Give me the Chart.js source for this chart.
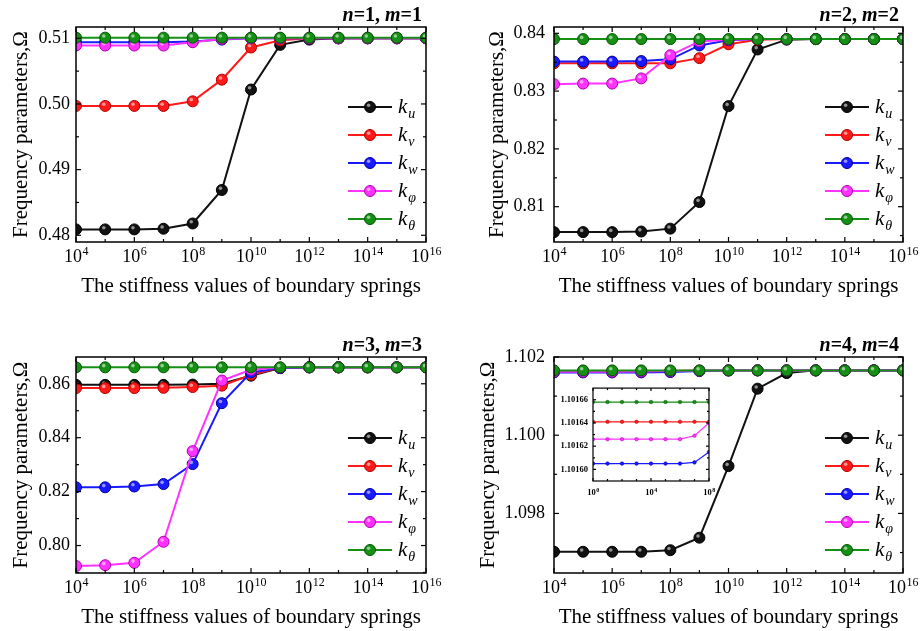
<!DOCTYPE html>
<html>
<head>
<meta charset="utf-8">
<script src="https://cdn.jsdelivr.net/npm/chart.js@4.4.1/dist/chart.umd.min.js"></script>
<style>
html, body { margin: 0; padding: 0; background: #fff; }
#wrap { position: relative; width: 920px; height: 631px; overflow: hidden; background: #fff; }
.box { position: absolute; }
</style>
</head>
<body>
<div id="wrap">
  <div class="box" style="left:0px;top:0px;width:460px;height:300px"><canvas id="c1"></canvas></div>
  <div class="box" style="left:460px;top:0px;width:460px;height:300px"><canvas id="c2"></canvas></div>
  <div class="box" style="left:0px;top:300px;width:460px;height:331px"><canvas id="c3"></canvas></div>
  <div class="box" style="left:460px;top:300px;width:460px;height:331px"><canvas id="c4"></canvas></div>
  <div class="box" style="left:555px;top:378px;width:165px;height:125px"><canvas id="c5"></canvas></div>
</div>
<script>
// stiffness values (x axis), one point per decade
var stiffness = [1e4, 1e5, 1e6, 1e7, 1e8, 1e9, 1e10, 1e11, 1e12, 1e13, 1e14, 1e15, 1e16];
var stiffnessTicks = [1e4, 1e6, 1e8, 1e10, 1e12, 1e14, 1e16];
var insetStiffness = [1e0, 1e1, 1e2, 1e3, 1e4, 1e5, 1e6, 1e7, 1e8];
var insetStiffnessTicks = [1e0, 1e4, 1e8];

var seriesSubs = ['u', 'v', 'w', 'φ', 'θ'];
var seriesColors = ['#111111', '#ff1a1a', '#1a1aff', '#ff33ff', '#159015'];
var seriesEdges = ['#000000', '#b00000', '#0000a0', '#b000b0', '#005500'];

// n=1, m=1
var ku1 = [0.4809, 0.4809, 0.4809, 0.4810, 0.4818, 0.4869, 0.5022, 0.5090, 0.5098, 0.5100, 0.5100, 0.5100, 0.5100];
var kv1 = [0.4997, 0.4997, 0.4997, 0.4997, 0.5004, 0.5037, 0.5086, 0.5097, 0.5100, 0.5100, 0.5100, 0.5100, 0.5100];
var kw1 = [0.5094, 0.5094, 0.5094, 0.5094, 0.5095, 0.5098, 0.5100, 0.5100, 0.5100, 0.5100, 0.5100, 0.5100, 0.5100];
var kp1 = [0.5089, 0.5089, 0.5089, 0.5089, 0.5094, 0.5099, 0.5100, 0.5100, 0.5100, 0.5100, 0.5100, 0.5100, 0.5100];
var kt1 = [0.5101, 0.5101, 0.5101, 0.5101, 0.5101, 0.5101, 0.5101, 0.5101, 0.5101, 0.5101, 0.5101, 0.5101, 0.5101];
var yTicks1 = [0.48, 0.49, 0.50, 0.51];
var yMinor1 = [0.485, 0.495, 0.505];

// n=2, m=2
var ku2 = [0.8056, 0.8056, 0.8056, 0.8057, 0.8062, 0.8108, 0.8274, 0.8372, 0.8389, 0.8390, 0.8390, 0.8390, 0.8390];
var kv2 = [0.8348, 0.8348, 0.8348, 0.8348, 0.8348, 0.8357, 0.8381, 0.8389, 0.8390, 0.8390, 0.8390, 0.8390, 0.8390];
var kw2 = [0.8351, 0.8351, 0.8351, 0.8352, 0.8355, 0.8379, 0.8388, 0.8390, 0.8390, 0.8390, 0.8390, 0.8390, 0.8390];
var kp2 = [0.8312, 0.8313, 0.8313, 0.8322, 0.8362, 0.8386, 0.8389, 0.8390, 0.8390, 0.8390, 0.8390, 0.8390, 0.8390];
var kt2 = [0.8390, 0.8390, 0.8390, 0.8390, 0.8390, 0.8390, 0.8390, 0.8390, 0.8390, 0.8390, 0.8390, 0.8390, 0.8390];
var yTicks2 = [0.81, 0.82, 0.83, 0.84];
var yMinor2 = [0.805, 0.815, 0.825, 0.835];

// n=3, m=3
var ku3 = [0.8596, 0.8596, 0.8596, 0.8596, 0.8597, 0.8600, 0.8630, 0.8658, 0.8661, 0.8661, 0.8661, 0.8661, 0.8661];
var kv3 = [0.8584, 0.8584, 0.8584, 0.8585, 0.8588, 0.8593, 0.8633, 0.8659, 0.8661, 0.8661, 0.8661, 0.8661, 0.8661];
var kw3 = [0.8216, 0.8216, 0.8219, 0.8228, 0.8302, 0.8528, 0.8642, 0.8658, 0.8661, 0.8661, 0.8661, 0.8661, 0.8661];
var kp3 = [0.7924, 0.7927, 0.7936, 0.8014, 0.8350, 0.8612, 0.8652, 0.8660, 0.8661, 0.8661, 0.8661, 0.8661, 0.8661];
var kt3 = [0.8661, 0.8661, 0.8661, 0.8661, 0.8661, 0.8661, 0.8661, 0.8661, 0.8661, 0.8661, 0.8661, 0.8661, 0.8661];
var yTicks3 = [0.80, 0.82, 0.84, 0.86];
var yMinor3 = [0.79, 0.81, 0.83, 0.85];

// n=4, m=4
var ku4 = [1.09702, 1.09702, 1.09702, 1.09702, 1.09706, 1.09738, 1.09921, 1.10119, 1.10159, 1.101658, 1.101658, 1.101658, 1.101658];
var kv4 = [1.101641, 1.101641, 1.101641, 1.101641, 1.101641, 1.10165, 1.101656, 1.101658, 1.101658, 1.101658, 1.101658, 1.101658, 1.101658];
var kw4 = [1.101605, 1.101605, 1.101605, 1.101606, 1.101615, 1.10164, 1.101655, 1.101658, 1.101658, 1.101658, 1.101658, 1.101658, 1.101658];
var kp4 = [1.101626, 1.101626, 1.101626, 1.101629, 1.10164, 1.101652, 1.101657, 1.101658, 1.101658, 1.101658, 1.101658, 1.101658, 1.101658];
var kt4 = [1.101658, 1.101658, 1.101658, 1.101658, 1.101658, 1.101658, 1.101658, 1.101658, 1.101658, 1.101658, 1.101658, 1.101658, 1.101658];
var yTicks4 = [1.098, 1.100, 1.102];
var yMinor4 = [1.097, 1.099, 1.101];

// inset of n=4, m=4 (k_v, k_w, k_phi, k_theta only)
var inKv = [1.101641, 1.101641, 1.101641, 1.101641, 1.101641, 1.101641, 1.101641, 1.101641, 1.101641];
var inKw = [1.101605, 1.101605, 1.101605, 1.101605, 1.101605, 1.101605, 1.101605, 1.101606, 1.101615];
var inKp = [1.101626, 1.101626, 1.101626, 1.101626, 1.101626, 1.101626, 1.101626, 1.101629, 1.101640];
var inKt = [1.101658, 1.101658, 1.101658, 1.101658, 1.101658, 1.101658, 1.101658, 1.101658, 1.101658];
var inYTicks = [1.10160, 1.10162, 1.10164, 1.10166];
var inYMinor = [1.10161, 1.10163, 1.10165];

var SERIF = "'Liberation Serif', 'Times New Roman', serif";

var framePlugin = {
  id: 'frame',
  afterDatasetDraw: function (chart, args, opts) {
    if (!opts.shine) return;
    var ctx = chart.ctx;
    ctx.save();
    args.meta.data.forEach(function (pt) {
      ctx.beginPath();
      ctx.fillStyle = 'rgba(255,255,255,0.55)';
      ctx.arc(pt.x - 1.4, pt.y - 1.7, 1.8, 0, Math.PI * 2);
      ctx.fill();
    });
    ctx.restore();
  },
  afterDraw: function (chart, args, opts) {
    var ctx = chart.ctx, a = chart.chartArea, xs = chart.scales.x, ys = chart.scales.y;
    ctx.save();
    ctx.strokeStyle = '#000';
    ctx.lineWidth = opts.frameWidth;
    ctx.strokeRect(a.left, a.top, a.right - a.left, a.bottom - a.top);
    ctx.lineWidth = opts.tickWidth;
    function seg(x1, y1, x2, y2) { ctx.beginPath(); ctx.moveTo(x1, y1); ctx.lineTo(x2, y2); ctx.stroke(); }
    opts.xMajor.forEach(function (v) {
      var px = xs.getPixelForValue(v);
      seg(px, a.bottom, px, a.bottom - opts.major);
      seg(px, a.top, px, a.top + opts.major);
    });
    opts.xMinor.forEach(function (v) {
      var px = xs.getPixelForValue(v);
      seg(px, a.bottom, px, a.bottom - opts.minor);
      seg(px, a.top, px, a.top + opts.minor);
    });
    opts.yMajor.forEach(function (v) {
      var py = ys.getPixelForValue(v);
      seg(a.left, py, a.left + opts.major, py);
      seg(a.right, py, a.right - opts.major, py);
    });
    opts.yMinor.forEach(function (v) {
      var py = ys.getPixelForValue(v);
      seg(a.left, py, a.left + opts.minor, py);
      seg(a.right, py, a.right - opts.minor, py);
    });

    // x tick labels as 10 with a raised exponent
    ctx.fillStyle = '#000';
    ctx.textBaseline = 'alphabetic';
    ctx.textAlign = 'left';
    var lf = opts.labelFont;
    opts.xMajor.forEach(function (v) {
      var px = xs.getPixelForValue(v);
      var e = String(Math.round(Math.log10(v)));
      ctx.font = lf.weight + ' ' + lf.size + 'px ' + SERIF;
      var wb = ctx.measureText('10').width;
      ctx.font = lf.weight + ' ' + lf.expSize + 'px ' + SERIF;
      var we = ctx.measureText(e).width;
      var x0 = px - (wb + we) / 2;
      var yb = a.bottom + lf.dy;
      ctx.font = lf.weight + ' ' + lf.size + 'px ' + SERIF;
      ctx.fillText('10', x0, yb);
      ctx.font = lf.weight + ' ' + lf.expSize + 'px ' + SERIF;
      ctx.fillText(e, x0 + wb + 0.5, yb - lf.rise);
    });

    // panel title, e.g. n=1, m=1
    if (opts.title) {
      var parts = opts.title;
      var total = 0;
      parts.forEach(function (p) { ctx.font = p[1] + ' 20px ' + SERIF; total += ctx.measureText(p[0]).width; });
      var x = a.right - 4 - total, y = a.top - 6;
      parts.forEach(function (p) {
        ctx.font = p[1] + ' 20px ' + SERIF;
        ctx.fillText(p[0], x, y);
        x += ctx.measureText(p[0]).width;
      });
    }

    // legend with subscripted labels
    if (opts.legend) {
      var n = chart.data.datasets.length;
      chart.data.datasets.forEach(function (ds, i) {
        var yy = a.bottom - 23 - (n - 1 - i) * 28;
        var x1 = a.right - 78, x2 = a.right - 34;
        ctx.strokeStyle = ds.borderColor;
        ctx.lineWidth = 2;
        seg(x1, yy, x2, yy);
        ctx.beginPath();
        ctx.fillStyle = ds.pointBackgroundColor;
        ctx.strokeStyle = ds.pointBorderColor;
        ctx.lineWidth = 1;
        ctx.arc((x1 + x2) / 2, yy, 5.5, 0, Math.PI * 2);
        ctx.fill();
        ctx.stroke();
        ctx.beginPath();
        ctx.fillStyle = 'rgba(255,255,255,0.55)';
        ctx.arc((x1 + x2) / 2 - 1.4, yy - 1.7, 1.8, 0, Math.PI * 2);
        ctx.fill();
        ctx.fillStyle = '#000';
        ctx.font = 'italic 21px ' + SERIF;
        ctx.fillText('k', x2 + 6, yy + 6);
        var kw = ctx.measureText('k').width;
        ctx.font = 'italic 14px ' + SERIF;
        ctx.fillText(ds.label.split('_')[1], x2 + 6 + kw + 1, yy + 11);
      });
    }
    ctx.restore();
  }
};

function makePanel(id, cfg) {
  var datasets = cfg.series.map(function (s, k) {
    var i = cfg.idx[k];
    return {
      label: 'k_' + seriesSubs[i],
      data: cfg.x.map(function (x, j) { return { x: x, y: s[j] }; }),
      borderColor: seriesColors[i],
      backgroundColor: seriesColors[i],
      borderWidth: cfg.lw,
      pointRadius: cfg.pr,
      pointBackgroundColor: seriesColors[i],
      pointBorderColor: seriesEdges[i],
      pointBorderWidth: cfg.pbw,
      order: 4 - i,
      tension: 0
    };
  });
  return new Chart(document.getElementById(id), {
    type: 'line',
    data: { datasets: datasets },
    options: {
      animation: false,
      responsive: true,
      maintainAspectRatio: false,
      events: [],
      layout: { padding: { left: cfg.padL, top: cfg.padT, right: cfg.padR, bottom: 0 } },
      plugins: {
        legend: { display: false },
        tooltip: { enabled: false },
        frame: {
          frameWidth: cfg.frameW, tickWidth: 1.2, major: cfg.major, minor: cfg.minor,
          xMajor: cfg.xTicks, xMinor: cfg.xMinor, yMajor: cfg.yTicks, yMinor: cfg.yMinor,
          title: cfg.title, legend: cfg.legend, shine: cfg.shine, labelFont: cfg.xLabelFont
        }
      },
      scales: {
        x: {
          type: 'logarithmic',
          min: cfg.xMin,
          max: cfg.xMax,
          afterBuildTicks: function (s) { s.ticks = cfg.xTicks.map(function (v) { return { value: v }; }); },
          afterFit: function (s) { s.height = cfg.xH; },
          ticks: { display: false },
          grid: { display: false, drawTicks: false },
          border: { display: false },
          title: {
            display: !!cfg.xTitle, text: cfg.xTitle, color: '#000',
            font: { family: SERIF, size: 21 }, padding: { top: 0, bottom: 1 }
          }
        },
        y: {
          type: 'linear',
          min: cfg.yMin,
          max: cfg.yMax,
          afterBuildTicks: function (s) { s.ticks = cfg.yTicks.map(function (v) { return { value: v }; }); },
          afterFit: function (s) { s.width = cfg.yW; },
          ticks: {
            color: '#000', padding: cfg.yPad,
            font: { family: SERIF, size: cfg.tickSize, weight: cfg.tickWeight },
            callback: function (v) { return v.toFixed(cfg.yDec); }
          },
          grid: { display: false, drawTicks: false },
          border: { display: false },
          title: {
            display: !!cfg.yTitle, text: cfg.yTitle, color: '#000',
            font: { family: SERIF, size: 21 }, padding: { top: 1, bottom: 0 }
          }
        }
      }
    },
    plugins: [framePlugin]
  });
}

var xTitle = 'The stiffness values of boundary springs';
var yTitle = 'Frequency parameters,Ω';
var xMinorTicks = [1e5, 1e7, 1e9, 1e11, 1e13, 1e15];
var common = {
  x: stiffness, xMin: 1e4, xMax: 1e16, xTicks: stiffnessTicks, xMinor: xMinorTicks,
  idx: [0, 1, 2, 3, 4], lw: 2, pr: 5.5, pbw: 1, frameW: 1.5, major: 5, minor: 3,
  tickSize: 18, tickWeight: 'normal', xH: 58, xTitle: xTitle, yTitle: yTitle,
  xLabelFont: { size: 18, expSize: 12, weight: 'normal', dy: 20, rise: 7 },
  legend: true, shine: true
};
function extend(o) { var r = {}; for (var k in common) r[k] = common[k]; for (var k2 in o) r[k2] = o[k2]; return r; }

makePanel('c1', extend({
  series: [ku1, kv1, kw1, kp1, kt1], yMin: 0.47898, yMax: 0.51172, yTicks: yTicks1, yMinor: yMinor1, yDec: 2,
  padL: 8, yW: 68, padR: 34, padT: 27, yPad: 6,
  title: [['n', 'italic bold'], ['=1, ', 'bold'], ['m', 'italic bold'], ['=1', 'bold']]
}));
makePanel('c2', extend({
  series: [ku2, kv2, kw2, kp2, kt2], yMin: 0.80389, yMax: 0.84109, yTicks: yTicks2, yMinor: yMinor2, yDec: 2,
  padL: 24, yW: 70, padR: 17, padT: 27, yPad: 9,
  title: [['n', 'italic bold'], ['=2, ', 'bold'], ['m', 'italic bold'], ['=2', 'bold']]
}));
makePanel('c3', extend({
  series: [ku3, kv3, kw3, kp3, kt3], yMin: 0.78981, yMax: 0.86993, yTicks: yTicks3, yMinor: yMinor3, yDec: 2,
  padL: 8, yW: 68, padR: 34, padT: 57, yPad: 6,
  title: [['n', 'italic bold'], ['=3, ', 'bold'], ['m', 'italic bold'], ['=3', 'bold']]
}));
makePanel('c4', extend({
  series: [ku4, kv4, kw4, kp4, kt4], yMin: 1.096477, yMax: 1.102, yTicks: yTicks4, yMinor: yMinor4, yDec: 3,
  padL: 15, yW: 79, padR: 17, padT: 57, yPad: 9,
  title: [['n', 'italic bold'], ['=4, ', 'bold'], ['m', 'italic bold'], ['=4', 'bold']]
}));
makePanel('c5', extend({
  x: insetStiffness, xMin: 1e0, xMax: 1e8, xTicks: insetStiffnessTicks, xMinor: [1e1, 1e2, 1e3, 1e5, 1e6, 1e7],
  series: [inKv, inKw, inKp, inKt], idx: [1, 2, 3, 4],
  yMin: 1.10159, yMax: 1.10167, yTicks: inYTicks, yMinor: inYMinor, yDec: 5,
  lw: 1.2, pr: 1.8, pbw: 0.5, frameW: 1.2, major: 3, minor: 2,
  tickSize: 8.5, tickWeight: 'bold', xH: 22, xTitle: '', yTitle: '',
  xLabelFont: { size: 8.5, expSize: 6, weight: 'bold', dy: 14, rise: 3.5 },
  padL: 0, yW: 38, padR: 11, padT: 5, yPad: 5, title: null, legend: false, shine: false
}));
</script>
</body>
</html>
